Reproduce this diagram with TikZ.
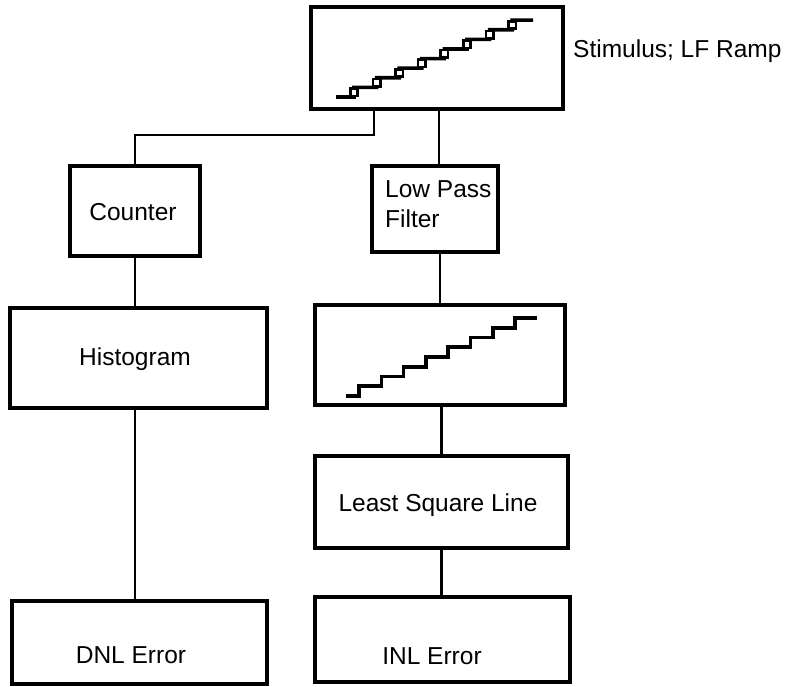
\documentclass[tikz,border=0pt]{standalone}
\usepackage{fontspec}
\setmainfont{Liberation Sans}
\usetikzlibrary{calc}
\begin{document}
\begin{tikzpicture}[x=1pt,y=-1pt,
  box/.style={draw,line width=3.2pt,inner sep=0pt,outer sep=0pt},
  conn/.style={line width=2.2pt},
  stairline/.style={line width=3.6pt,line join=miter},
  stepsq/.style={draw,line width=2.6pt,fill=white,minimum size=7.5pt,inner sep=0pt},
  lbl/.style={font=\fontsize{24.5}{30}\selectfont,inner sep=0pt,anchor=base}]
\useasboundingbox (0,0) rectangle (790,687);

% boxes
\node[box,minimum width=252pt,minimum height=102pt] (stim) at (437,58) {};
\node[box,minimum width=130pt,minimum height=90pt] (counter) at (135,211) {};
\node[box,minimum width=126pt,minimum height=86pt] (lpf) at (435,209) {};
\node[box,minimum width=257pt,minimum height=100pt] (hist) at (138.5,358) {};
\node[box,minimum width=250pt,minimum height=100pt] (stair) at (440,355) {};
\node[box,minimum width=253pt,minimum height=92pt] (lsl) at (441.5,502) {};
\node[box,minimum width=255pt,minimum height=83pt] (dnl) at (139.5,642.5) {};
\node[box,minimum width=255pt,minimum height=85pt] (inl) at (442.5,639.5) {};

% labels
\node[lbl,anchor=base west] (stimlbl) at (573,58) {Stimulus; LF Ramp};
\node[lbl] (counterlbl) at (133,220.5) {Counter};
\node[lbl,anchor=base west,align=left] (lpflbl) at (385,228) {Low Pass\\Filter};
\node[lbl] (histlbl) at (135,365.5) {Histogram};
\node[lbl] (lsllbl) at (438,511.5) {Least Square Line};
\node[lbl] (dnllbl) at (131,663.5) {DNL Error};
\node[lbl] (inllbl) at (432,664.5) {INL Error};

% staircase in stimulus box
\draw[stairline] (336,97) \foreach \i in {0,...,7}{ -| ({354+22.6*\i},{97-9.6*(\i+1)}) } -- (533,20.2);
\foreach \i in {0,...,7}{
  \node[stepsq] (sq\i) at ({354+22.6*\i},{97-9.6*\i-4.8}) {};
}
% staircase after filter
\draw[stairline] (346,396) \foreach \i in {0,...,7}{ -| ({359+22.3*\i},{396-9.75*(\i+1)}) } -- (537,318);

% connectors
\coordinate (t1) at ([xshift=63pt]stim.south west);
\coordinate (t2) at ([xshift=128pt]stim.south west);
\draw[conn] (t1) -- ++(0,26) -| (counter.north);
\draw[conn] (t2) -- (t2 |- lpf.north);
\draw[conn] (counter.south) -- (counter.south |- hist.north);
\draw[conn] (counter.south |- hist.south) -- (counter.south |- dnl.north);
\draw[conn] (stair.north |- lpf.south) -- (stair.north);
\draw[conn] (lsl.north |- stair.south) -- (lsl.north);
\draw[conn] (lsl.south) -- (lsl.south |- inl.north);
\end{tikzpicture}
\end{document}
